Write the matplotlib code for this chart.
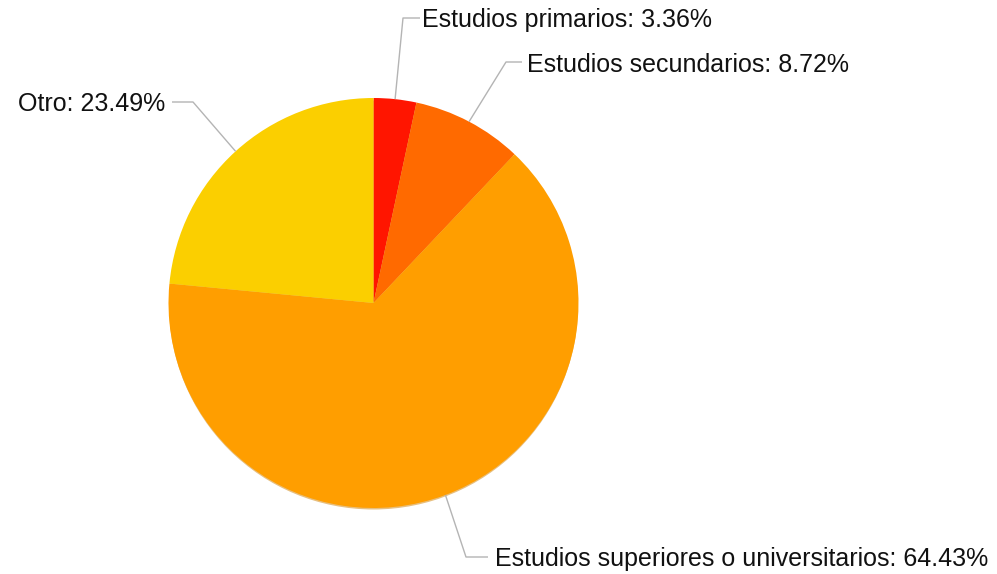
import matplotlib
matplotlib.use('Agg')

import numpy as np
import matplotlib.pyplot as plt
from matplotlib.patches import Circle

labels = ['Estudios primarios', 'Estudios secundarios',
          'Estudios superiores o universitarios', 'Otro']
shares = [3.36, 8.72, 64.43, 23.49]
colors = ['#ff1500', '#ff6a00', '#ff9e00', '#fbcf00']

W, H = 997, 574
center = (373.5, H - 303)
radius = 205

# elbow of each leader line, end of its flat part, text anchor (pixel coords, y down)
callouts = [
    ((403, 18), (420, 18), (422, 20), 'left'),
    ((506, 62), (522, 62), (527, 65), 'left'),
    ((466, 557), (488, 557), (495, 559), 'left'),
    ((193, 102), (172, 102), (165, 104), 'right'),
]

plt.rcParams['font.family'] = ['Liberation Sans', 'DejaVu Sans']

fig = plt.figure(figsize=(W / 100, H / 100), dpi=100)
ax = fig.add_axes([0, 0, 1, 1])

# faint shadow under the lower rim of the pie
ax.add_patch(Circle((center[0], center[1] - 2), radius - 0.5, color='#d08000',
                    alpha=0.5, lw=0, zorder=0))

ax.pie(shares, colors=colors, startangle=90, counterclock=False,
       center=center, radius=radius, frame=True,
       wedgeprops=dict(linewidth=0))
ax.set_xlim(0, W)
ax.set_ylim(0, H)
ax.set_aspect('equal')
ax.axis('off')

cum = np.cumsum([0] + shares[:-1])
for lab, val, c0, (elbow, end, tpos, ha) in zip(labels, shares, cum, callouts):
    theta = np.deg2rad(90 - 360 * (c0 + val / 2) / 100)
    x0 = center[0] + radius * np.cos(theta)
    y0 = center[1] + radius * np.sin(theta)
    ax.plot([x0, elbow[0], end[0]], [y0, H - elbow[1], H - end[1]],
            color='#b4b4b4', lw=1, solid_capstyle='butt', zorder=1)
    ax.text(tpos[0], H - tpos[1], f'{lab}: {val:.2f}%', ha=ha, va='center',
            fontsize=18, color='#111111')

fig.savefig('out.png', dpi=100)
